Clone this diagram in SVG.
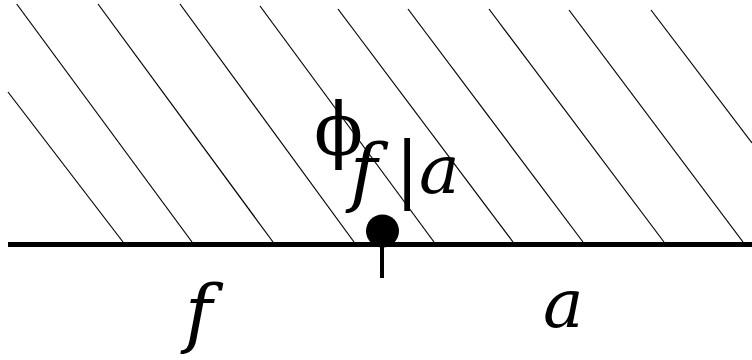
<svg xmlns="http://www.w3.org/2000/svg" width="752" height="360" viewBox="0 0 752 360">
  <style>
    .hatch { stroke: #000; stroke-width: 1.2; fill: none; }
    .base { stroke: #000; stroke-width: 5; fill: none; }
    .tick { stroke: #000; stroke-width: 4; fill: none; }
    .lbl { font-family: "DejaVu Serif", serif; fill: #000; }
  </style>
  <rect width="752" height="360" fill="#fff"/>
  <g id="hatching">
    <line class="hatch" x1="8" y1="92" x2="123" y2="242"/>
    <line class="hatch" x1="16.7" y1="4" x2="192" y2="242"/>
    <line class="hatch" x1="98" y1="4" x2="273" y2="242"/>
    <line class="hatch" x1="180" y1="4" x2="354" y2="242"/>
    <line class="hatch" x1="260" y1="6" x2="434" y2="242"/>
    <line class="hatch" x1="338" y1="9" x2="513" y2="242"/>
    <line class="hatch" x1="408" y1="9" x2="583" y2="242"/>
    <line class="hatch" x1="489" y1="9" x2="664" y2="242"/>
    <line class="hatch" x1="569" y1="10" x2="743" y2="242"/>
    <line class="hatch" x1="651" y1="10" x2="752" y2="143"/>
  </g>
  <g id="connectors">
    <line class="base" x1="8" y1="244.5" x2="752" y2="244.5"/>
    <line class="tick" x1="382" y1="244" x2="382" y2="278"/>
  </g>
  <g id="point">
    <circle cx="382.5" cy="231" r="16.5" fill="#000"/>
  </g>
  <g id="label-phi" class="lbl" font-size="68">
    <text x="314" y="155" font-size="72">ϕ</text>
    <text x="350" y="197" font-size="74" font-style="italic">f</text>
    <text x="395" y="194" font-size="72">|</text>
    <text x="419" y="193" font-style="italic">a</text>
  </g>
  <g id="label-f" class="lbl" font-size="74">
    <text x="185" y="338" font-style="italic">f</text>
  </g>
  <g id="label-a" class="lbl" font-size="68">
    <text x="543" y="327" font-style="italic">a</text>
  </g>
</svg>
